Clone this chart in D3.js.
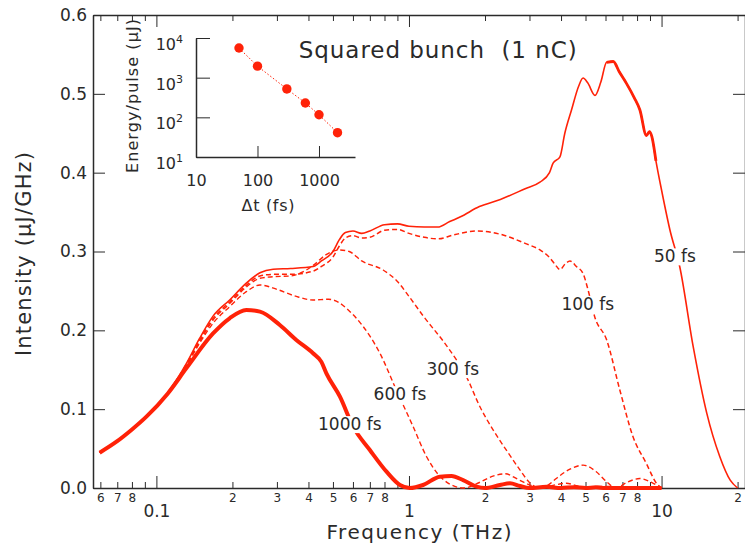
<!DOCTYPE html>
<html>
<head>
<meta charset="utf-8">
<script src="https://cdn.jsdelivr.net/npm/d3@7"></script>
<style>
body { margin: 0; background: #fff; }
svg { display: block; font-family: "DejaVu Sans", sans-serif; }
</style>
</head>
<body>
<div class="container"></div>
<script>
var W = 745, H = 544;
var RED = "#ff2208", INK = "#2a2a2a";

// spectra: frequency (THz) / intensity (uJ/GHz)
var freq50 = [0.0596,0.0695,0.0796,0.0913,0.111,0.1315,0.1484,0.1676,0.195,0.227,0.257,0.29,0.34,0.417,0.45,0.5,0.53,0.56,0.6,0.65,0.7,0.8,0.9,1.0,1.15,1.3,1.45,1.6,1.9,2.3,2.9,3.3,3.6,3.72,3.96,4.14,4.4,4.7,4.89,5.1,5.45,5.75,6.06,6.44,6.8,7.27,7.8,8.21,8.71,8.95,9.15,9.5,10.0,10.8,11.8,13.35,15.1,17.0,18.7,20.0];
var int50 = [0.045,0.0587,0.0736,0.0905,0.121,0.158,0.19,0.218,0.2385,0.26,0.273,0.2775,0.2785,0.281,0.288,0.3,0.315,0.324,0.326,0.323,0.326,0.334,0.335,0.332,0.331,0.331,0.338,0.344,0.357,0.366,0.38,0.388,0.4,0.412,0.42,0.45,0.4795,0.51,0.52,0.514,0.498,0.515,0.54,0.541,0.528,0.513,0.495,0.4795,0.447,0.452,0.446,0.415,0.378,0.327,0.281,0.179,0.095,0.04,0.01,0];

var freq100 = [0.0596,0.0695,0.0796,0.0913,0.111,0.1315,0.1484,0.1676,0.195,0.227,0.257,0.29,0.34,0.417,0.45,0.5,0.53,0.56,0.6,0.65,0.7,0.8,0.9,1.0,1.15,1.3,1.5,1.85,2.29,2.9,3.3,3.61,3.8,3.96,4.15,4.34,4.6,4.89,5.12,5.44,6.06,6.84,7.71,8.71,9.55,10.0];
var int100 = [0.045,0.0587,0.0736,0.0905,0.121,0.157,0.188,0.215,0.236,0.257,0.269,0.271,0.271,0.275,0.281,0.293,0.307,0.317,0.32,0.317,0.318,0.327,0.328,0.323,0.318,0.316,0.321,0.326,0.322,0.31,0.302,0.292,0.283,0.277,0.284,0.288,0.281,0.272,0.251,0.217,0.188,0.124,0.065,0.031,0.006,0];

var freq300 = [0.0596,0.0695,0.0796,0.0913,0.111,0.1315,0.1484,0.1676,0.195,0.227,0.257,0.29,0.34,0.38,0.42,0.47,0.53,0.58,0.65,0.79,0.9,1.0,1.14,1.42,1.69,1.91,2.15,2.43,2.75,3.0,3.3,3.6,3.83,4.34,4.89,5.5,6.06,6.6,7.27,8.2,9.27,10.0];
var int300 = [0.045,0.0587,0.0736,0.0905,0.12,0.156,0.186,0.213,0.234,0.255,0.266,0.268,0.269,0.274,0.283,0.296,0.302,0.3,0.288,0.2765,0.262,0.243,0.218,0.179,0.141,0.103,0.074,0.048,0.023,0.007,0,0.005,0.012,0.024,0.029,0.021,0.008,0,0.007,0.012,0.006,0];

var freq600 = [0.0596,0.0695,0.0796,0.0913,0.111,0.1315,0.1484,0.1676,0.195,0.227,0.257,0.3,0.358,0.417,0.48,0.53,0.565,0.658,0.767,0.892,1.038,1.173,1.3,1.45,1.65,1.9,2.15,2.4,2.7,3.0,3.33,3.8,4.2,4.6,5.0,5.6,6.2,6.7,10.0];
var int600 = [0.045,0.0587,0.0736,0.0905,0.12,0.155,0.184,0.209,0.23,0.249,0.2575,0.252,0.243,0.2385,0.2394,0.235,0.228,0.205,0.171,0.124,0.078,0.04,0.018,0.005,0,0.007,0.015,0.018,0.011,0.004,0,0.004,0.006,0.003,0,0.002,0.002,0,0];

var freq1000 = [0.0596,0.0695,0.0796,0.0913,0.111,0.1315,0.1676,0.195,0.227,0.257,0.308,0.358,0.417,0.45,0.471,0.533,0.601,0.7,0.815,0.921,1.007,1.137,1.325,1.473,1.638,1.851,2.0,2.29,2.51,2.75,3.0,3.5,4.0,4.5,5.0,5.5,6.0,10.0];
var int1000 = [0.0448,0.0587,0.0736,0.0905,0.12,0.152,0.196,0.2153,0.2258,0.2237,0.2068,0.1878,0.1709,0.16,0.1455,0.1159,0.0778,0.0482,0.0207,0.0038,0,0.0038,0.0144,0.0152,0.01,0.0017,0,0.0038,0.0059,0.0025,0,0.0015,0,0.001,0,0.0008,0,0];

// inset: energy per pulse vs bunch length
var insetDt = [50,100,300,600,1000,2000];
var insetEnergy = [5600,1950,520,230,116,41];

// ticks
var xMajor = [0.1,1,10];
var xMajorLabels = ["0.1","1","10"];
var xMinor = [0.06,0.07,0.08,0.09,0.2,0.3,0.4,0.5,0.6,0.7,0.8,0.9,2,3,4,5,6,7,8,9,20];
var xMinorLabels = ["6","7","8","","2","3","4","5","6","7","8","","2","3","4","5","6","7","8","","2"];
var yTicks = [0,0.1,0.2,0.3,0.4,0.5,0.6];
var insetXTicks = [10,100,1000];
var insetXLabels = ["10","100","1000"];
var insetYTicks = [10,100,1000,10000];
var insetYExp = ["1","2","3","4"];

var svg = d3.select(".container").append("svg")
	.attr("width", W).attr("height", H);

var x = d3.scaleLog().domain([0.0561, 21.4]).range([93, 745]);
var y = d3.scaleLinear().domain([0, 0.6]).range([488, 15]);

var styleAxis = function(g, size){
	g.attr("font-family", "DejaVu Sans").attr("font-size", size).attr("color", INK);
	g.select(".domain").attr("stroke-width", 1.5);
	g.selectAll(".tick line").attr("stroke-width", 1);
}

// bottom axis
svg.append("g").attr("transform", "translate(0,488)")
	.call(d3.axisBottom(x).tickValues(xMinor)
		.tickFormat(function(d, i){ return xMinorLabels[i]; })
		.tickSize(-6).tickSizeOuter(0).tickPadding(5))
	.call(styleAxis, 12);
svg.append("g").attr("transform", "translate(0,488)")
	.call(d3.axisBottom(x).tickValues(xMajor)
		.tickFormat(function(d, i){ return xMajorLabels[i]; })
		.tickSize(-12).tickSizeOuter(0).tickPadding(17))
	.call(styleAxis, 17)
	.call(function(g){ g.select(".domain").remove(); });

// top axis (mirror, no labels)
svg.append("g").attr("transform", "translate(0,15)")
	.call(d3.axisTop(x).tickValues(xMinor).tickFormat("").tickSize(-6).tickSizeOuter(0))
	.call(styleAxis, 12);
svg.append("g").attr("transform", "translate(0,15)")
	.call(d3.axisTop(x).tickValues(xMajor).tickFormat("").tickSize(-12).tickSizeOuter(0))
	.call(styleAxis, 12)
	.call(function(g){ g.select(".domain").remove(); });

// left / right axes
svg.append("g").attr("transform", "translate(93,0)")
	.call(d3.axisLeft(y).tickValues(yTicks).tickFormat(d3.format(".1f"))
		.tickSize(-12).tickSizeOuter(0).tickPadding(6))
	.call(styleAxis, 17);
svg.append("g").attr("transform", "translate(745,0)")
	.call(d3.axisRight(y).tickValues(yTicks).tickFormat("").tickSize(-12).tickSizeOuter(0))
	.call(styleAxis, 12);

// axis titles
svg.append("text")
	.attr("x", 419).attr("y", 539)
	.attr("text-anchor", "middle")
	.attr("font-size", 20).attr("fill", INK)
	.attr("textLength", 185).attr("lengthAdjust", "spacing")
	.text("Frequency (THz)");
svg.append("text")
	.attr("transform", "translate(31,254) rotate(-90)")
	.attr("text-anchor", "middle")
	.attr("font-size", 21).attr("fill", INK)
	.attr("textLength", 204).attr("lengthAdjust", "spacing")
	.text("Intensity (\u00b5J/GHz)");

// spectra
var line = d3.line()
	.x(function(d){ return x(d[0]); })
	.y(function(d){ return y(d[1]); })
	.curve(d3.curveMonotoneX);

var series = [
	{f: freq600, v: int600, width: 1.4, dash: "5,3"},
	{f: freq300, v: int300, width: 1.4, dash: "5,3"},
	{f: freq100, v: int100, width: 1.5, dash: "5,3"},
	{f: freq1000, v: int1000, width: 4, dash: null},
	{f: freq50, v: int50, width: 1.6, dash: null}
];

series.forEach(function(s){
	svg.append("path")
		.datum(d3.zip(s.f, s.v))
		.attr("d", line)
		.attr("fill", "none")
		.attr("stroke", RED)
		.attr("stroke-width", s.width)
		.attr("stroke-dasharray", s.dash)
		.attr("stroke-linejoin", "round");
});

// the 50 fs trace is noisier (looks heavier) round its peak
svg.append("path")
	.datum(d3.zip(freq50, int50).filter(function(d){ return d[0] >= 5.9 && d[0] <= 9.6; }))
	.attr("d", line)
	.attr("fill", "none")
	.attr("stroke", RED)
	.attr("stroke-width", 2.8)
	.attr("stroke-linejoin", "round");

// curve labels, on a white patch that breaks the line
var curveLabels = [
	{t: "50 fs", f: 11.29, v: 0.294},
	{t: "100 fs", f: 5.107, v: 0.2334},
	{t: "300 fs", f: 1.491, v: 0.151},
	{t: "600 fs", f: 0.921, v: 0.1192},
	{t: "1000 fs", f: 0.583, v: 0.0812}
];
curveLabels.forEach(function(l){
	var g = svg.append("g");
	var t = g.append("text")
		.attr("x", x(l.f)).attr("y", y(l.v))
		.attr("dy", "0.36em")
		.attr("text-anchor", "middle")
		.attr("font-size", 17).attr("fill", INK)
		.text(l.t);
	var b = t.node().getBBox();
	g.insert("rect", "text")
		.attr("x", b.x - 1).attr("y", b.y + 2)
		.attr("width", b.width + 2).attr("height", b.height - 3)
		.attr("fill", "#fff");
});

// title
svg.append("text")
	.attr("x", x(0.366)).attr("y", y(0.5455))
	.attr("font-size", 23).attr("fill", INK)
	.attr("textLength", 278).attr("lengthAdjust", "spacing")
	.style("white-space", "pre")
	.text("Squared bunch  (1 nC)");

// inset
var ix = d3.scaleLog().domain([10, 3850]).range([196, 355]);
var iy = d3.scaleLog().domain([10, 10000]).range([157, 38]);

svg.append("g").attr("transform", "translate(0,157)")
	.call(d3.axisBottom(ix).tickValues(insetXTicks)
		.tickFormat(function(d, i){ return insetXLabels[i]; })
		.tickSize(-11).tickSizeOuter(0).tickPadding(18))
	.call(styleAxis, 16);

svg.append("g").attr("transform", "translate(196,0)")
	.call(d3.axisLeft(iy).tickValues(insetYTicks).tickFormat("")
		.tickSize(-14).tickSizeOuter(0))
	.call(styleAxis, 16);

insetYTicks.forEach(function(d, i){
	var t = svg.append("text")
		.attr("x", 183).attr("y", iy(d) + 12)
		.attr("text-anchor", "end")
		.attr("font-size", 16).attr("fill", INK);
	t.append("tspan").text("10");
	t.append("tspan").attr("dy", "-0.65em").attr("font-size", 11).text(insetYExp[i]);
});

svg.append("text")
	.attr("x", 268).attr("y", 211)
	.attr("text-anchor", "middle")
	.attr("font-size", 16).attr("fill", INK)
	.attr("textLength", 53).attr("lengthAdjust", "spacing")
	.text("\u0394t (fs)");
svg.append("text")
	.attr("transform", "translate(138,96) rotate(-90)")
	.attr("text-anchor", "middle")
	.attr("font-size", 16).attr("fill", INK)
	.attr("textLength", 154).attr("lengthAdjust", "spacing")
	.text("Energy/pulse (\u00b5J)");

var insetPts = d3.zip(insetDt, insetEnergy);
svg.append("path")
	.datum(insetPts)
	.attr("d", d3.line().x(function(d){ return ix(d[0]); }).y(function(d){ return iy(d[1]); }))
	.attr("fill", "none")
	.attr("stroke", RED)
	.attr("stroke-width", 1)
	.attr("stroke-dasharray", "1.5,2");
svg.selectAll(".dot").data(insetPts).enter().append("circle")
	.attr("class", "dot")
	.attr("cx", function(d){ return ix(d[0]); })
	.attr("cy", function(d){ return iy(d[1]); })
	.attr("r", 4.7)
	.attr("fill", RED);
</script>
</body>
</html>
